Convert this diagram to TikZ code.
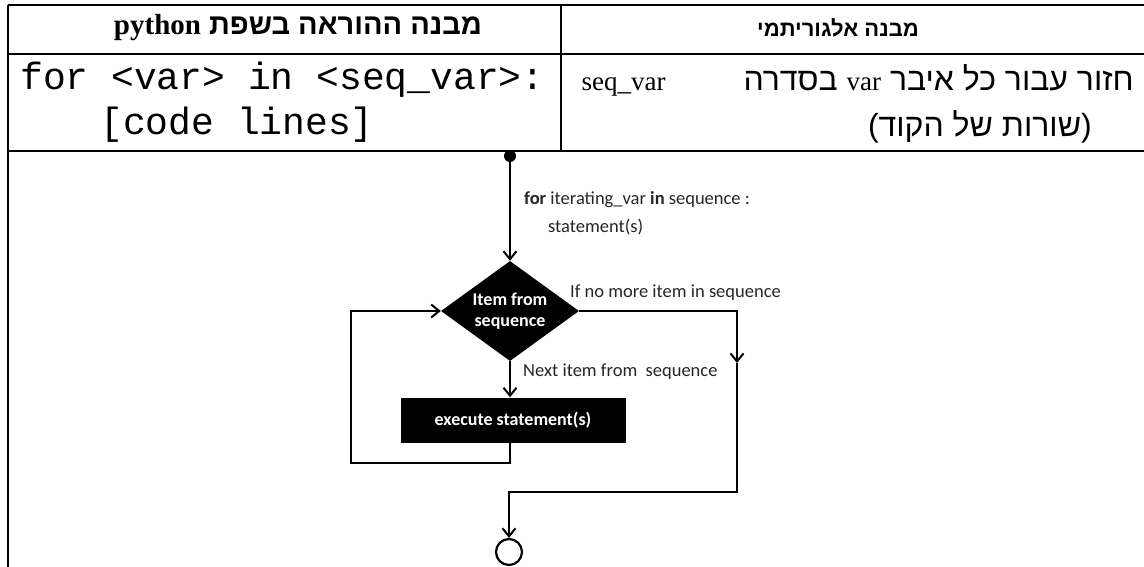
\documentclass[tikz,border=0pt]{standalone}
\usepackage{fontspec}
\usepackage{xcolor}
\usepackage{tikz}
\usetikzlibrary{shapes.geometric,arrows.meta}
\setmainfont{Liberation Serif}
\setmonofont{Liberation Mono}
\newfontfamily\hebfont[Script=Hebrew]{Liberation Sans}
\newfontfamily\chartfont{Carlito}
\TeXXeTstate=1
\begin{document}
\begin{tikzpicture}[x=1pt, y=-1pt,
  rule/.style={line width=2.6pt},
  flow/.style={line width=2.2pt, draw=black},
  arr/.style={flow, -{Straight Barb[length=8pt, width=13pt, line width=2pt]}},
  chart/.style={text=black!85, inner sep=0pt, font=\chartfont\fontsize{18.5pt}{22pt}\selectfont},
  blk/.style={fill=black, text=white, inner sep=0pt, font=\chartfont\bfseries\fontsize{18pt}{21pt}\selectfont}]%
\useasboundingbox (0,0) rectangle (1144,567);%
\draw[rule] (8,5) -- (1144,5);%
\draw[rule] (8,54) -- (1144,54);%
\draw[rule] (8,151) -- (1144,151);%
\draw[rule] (8,5) -- (8,567);%
\draw[rule] (561,5) -- (561,151);%
\node[font=\bfseries\fontsize{29pt}{32pt}\selectfont] (headcode) at (298,28) {\hebfont\beginR מבנה ההוראה בשפת {\rmfamily python}\endR};%
\node[font=\bfseries\fontsize{22pt}{26pt}\selectfont] (headalg) at (838,28) {\hebfont\beginR מבנה אלגוריתמי\endR};%
\node[anchor=west, inner sep=0pt, font=\ttfamily\fontsize{38pt}{40pt}\selectfont] (codeline) at (20,80) {for <var> in <seq\_var>:};%
\node[anchor=west, inner sep=0pt, font=\ttfamily\fontsize{38pt}{40pt}\selectfont] (codebody) at (100,125) {[code lines]};%
\node[anchor=east, inner sep=0pt, font=\fontsize{32pt}{36pt}\selectfont] (algline) at (1134,80) {\hebfont\beginR חזור עבור כל איבר {\rmfamily\fontsize{27pt}{30pt}\selectfont var} בסדרה\hspace{78pt}{\rmfamily\fontsize{27pt}{30pt}\selectfont seq\_var}\endR};%
\node[anchor=east, inner sep=0pt, font=\fontsize{32pt}{36pt}\selectfont] (algbody) at (1092,127) {\hebfont\beginR (שורות של הקוד)\endR};%
\node[circle, fill=black, inner sep=0pt, minimum size=12pt] (start) at (510,156) {};%
\node[diamond, blk, aspect=1.38, minimum width=138pt, minimum height=100pt, align=center] (item) at (510,311) {Item from\\sequence};%
\node[rectangle, blk, minimum width=225pt, minimum height=45pt] (exec) at (513,420) {execute statement(s)};%
\node[circle, flow, inner sep=0pt, minimum size=26pt] (stop) at (509,552) {};%
\node[chart, anchor=west] (forline) at (524,200) {\textbf{for} iterating\_var \textbf{in} sequence :};%
\node[chart, anchor=west] (stmtline) at (548,227) {statement(s)};%
\node[chart, anchor=west] (nomore) at (570,293) {If no more item in sequence};%
\node[chart, anchor=west] (nextitem) at (523,372) {Next item from\ \ sequence};%
\coordinate (side) at (737,311);%
\coordinate (down) at (737,363);%
\coordinate (join) at (737,492);%
\coordinate (back) at (351,463);%
\draw[arr] (start) -- (item.north);%
\draw[arr] (item.south) -- (item.south |- exec.north);%
\draw[arr] (item.south |- exec.south) -- (item.south |- back) -- (back) |- (item.west);%
\draw[arr] (item.east) -- (side) -- (down);%
\draw[arr] (down) -- (join) -| (stop.north);%
\end{tikzpicture}
\end{document}
